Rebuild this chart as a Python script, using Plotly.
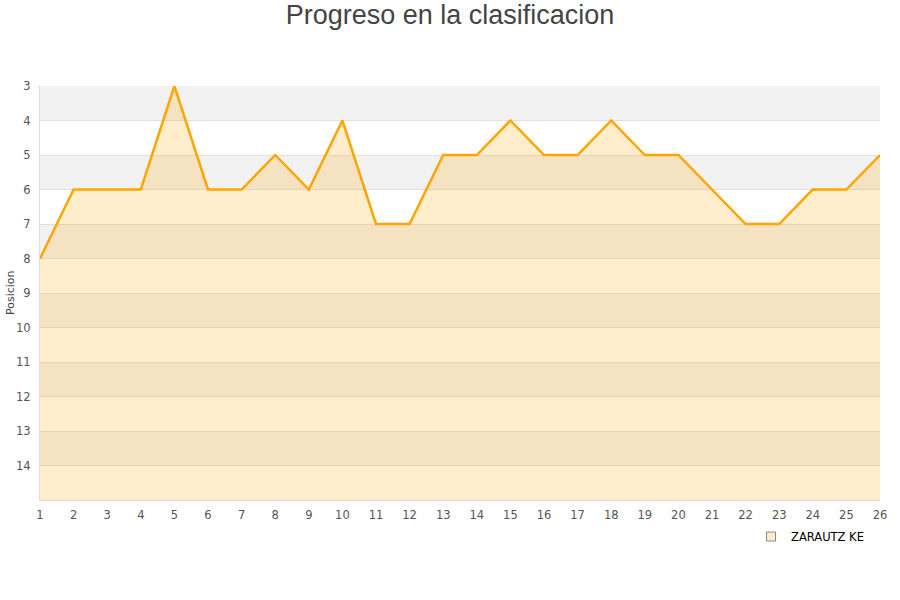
import plotly.graph_objects as go

jornadas = list(range(1, 27))
posiciones = [8, 6, 6, 6, 3, 6, 6, 5, 6, 4, 7, 7, 5, 5, 4, 5, 5, 4, 5, 5, 6, 7, 7, 6, 6, 5]
equipo = "ZARAUTZ KE"
y_ticks = list(range(3, 15))
y_min, y_max = 3, 15

W, H = 900, 600
ML, MR, MT, MB = 40, 20, 86, 100

fig = go.Figure()

# baseline for fill
fig.add_trace(go.Scatter(x=jornadas, y=[y_max] * len(jornadas), mode="lines",
                         line=dict(width=0), showlegend=False, hoverinfo="skip"))
fig.add_trace(go.Scatter(x=jornadas, y=posiciones, mode="lines", name=equipo,
                         line=dict(color="#FFA500", width=2.5), showlegend=False,
                         fill="tonexty", fillcolor="rgba(255,165,0,0.2)"))
# legend entry
fig.add_trace(go.Scatter(x=[None], y=[None], mode="markers", name=equipo,
                         marker=dict(symbol="square", size=9, color="#ffeccc",
                                     line=dict(color="#888888", width=1))))

shapes = []
for v in range(y_min, y_max, 2):
    shapes.append(dict(type="rect", xref="paper", yref="y", x0=0, x1=1, y0=v, y1=v + 1,
                       fillcolor="#f2f2f2", line=dict(width=0), layer="below"))

pw = W - ML - MR
ph = H - MT - MB
tick_font = dict(family="DejaVu Sans, sans-serif", size=11.5, color="#555555")

fig.update_layout(
    width=W, height=H,
    paper_bgcolor="white", plot_bgcolor="white",
    title=dict(text="Progreso en la clasificacion", x=0.5, xanchor="center",
               y=1 - 15 / H, yanchor="middle",
               font=dict(family="Liberation Sans, Arial, sans-serif", size=27, color="#444444")),
    margin=dict(l=ML, r=MR, t=MT, b=MB, autoexpand=False),
    shapes=shapes,
    annotations=[dict(text="Posicion", xref="paper", yref="paper", x=(10 - ML) / pw,
                      y=0.5, xanchor="center", yanchor="middle", textangle=-90, showarrow=False,
                      font=dict(size=11, color="#444444"))],
    font=dict(family="DejaVu Sans, sans-serif", size=11, color="#444444"),
    xaxis=dict(range=[1, 26], tickvals=jornadas, showgrid=False, zeroline=False, automargin=False,
               showline=True, linecolor="#dddddd", ticks="", tickfont=tick_font,
               ticklabelstandoff=4),
    yaxis=dict(range=[y_max, y_min], tickvals=y_ticks, showgrid=True, gridcolor="#e0e0e0",
               zeroline=False, showline=True, linecolor="#dddddd", ticks="", automargin=False,
               tickfont=tick_font, ticklabelstandoff=6),
    legend=dict(orientation="h", x=(751 - ML) / pw, xanchor="left", y=-22 / ph, yanchor="top",
                font=dict(family="DejaVu Sans, sans-serif", size=11.5, color="#000000")),
    showlegend=True,
)

fig.write_html("out.html", config={"displayModeBar": False},
               post_script="document.body.style.margin='0';")
